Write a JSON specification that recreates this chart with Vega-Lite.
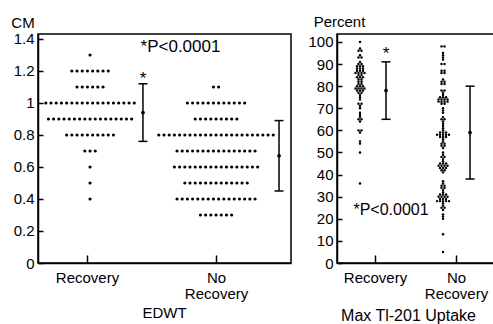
{
  "$schema": "https://vega.github.io/schema/vega-lite/v6.json",
  "padding": {"left": 10, "top": 13, "right": 0, "bottom": 0},
  "background": "white",
  "spacing": 15,
  "config": {
    "font": "Liberation Sans",
    "view": {"stroke": "black", "strokeWidth": 1.5},
    "axis": {"grid": false, "labelOverlap": false, "domainColor": "black", "domainWidth": 1.5, "tickColor": "black", "tickWidth": 1.5, "labelColor": "black", "titleColor": "black", "labelFontSize": 15, "titleFontSize": 15, "titleFontWeight": "normal", "labelFont": "Liberation Sans", "titleFont": "Liberation Sans"},
    "axisY": {"labelOverlap": false},
    "axisQuantitative": {"labelOverlap": false},
    "text": {"font": "Liberation Sans", "color": "black"}
  },
  "datasets": {
    "edwt": [
      {"group":"Recovery","value":1.3},
      {"group":"Recovery","value":1.2},{"group":"Recovery","value":1.2},{"group":"Recovery","value":1.2},{"group":"Recovery","value":1.2},{"group":"Recovery","value":1.2},{"group":"Recovery","value":1.2},{"group":"Recovery","value":1.2},{"group":"Recovery","value":1.2},
      {"group":"Recovery","value":1.1},{"group":"Recovery","value":1.1},{"group":"Recovery","value":1.1},{"group":"Recovery","value":1.1},{"group":"Recovery","value":1.1},{"group":"Recovery","value":1.1},
      {"group":"Recovery","value":1.0},{"group":"Recovery","value":1.0},{"group":"Recovery","value":1.0},{"group":"Recovery","value":1.0},{"group":"Recovery","value":1.0},{"group":"Recovery","value":1.0},{"group":"Recovery","value":1.0},{"group":"Recovery","value":1.0},{"group":"Recovery","value":1.0},{"group":"Recovery","value":1.0},{"group":"Recovery","value":1.0},{"group":"Recovery","value":1.0},{"group":"Recovery","value":1.0},{"group":"Recovery","value":1.0},{"group":"Recovery","value":1.0},{"group":"Recovery","value":1.0},{"group":"Recovery","value":1.0},{"group":"Recovery","value":1.0},
      {"group":"Recovery","value":0.9},{"group":"Recovery","value":0.9},{"group":"Recovery","value":0.9},{"group":"Recovery","value":0.9},{"group":"Recovery","value":0.9},{"group":"Recovery","value":0.9},{"group":"Recovery","value":0.9},{"group":"Recovery","value":0.9},{"group":"Recovery","value":0.9},{"group":"Recovery","value":0.9},{"group":"Recovery","value":0.9},{"group":"Recovery","value":0.9},{"group":"Recovery","value":0.9},{"group":"Recovery","value":0.9},{"group":"Recovery","value":0.9},{"group":"Recovery","value":0.9},{"group":"Recovery","value":0.9},
      {"group":"Recovery","value":0.8},{"group":"Recovery","value":0.8},{"group":"Recovery","value":0.8},{"group":"Recovery","value":0.8},{"group":"Recovery","value":0.8},{"group":"Recovery","value":0.8},{"group":"Recovery","value":0.8},{"group":"Recovery","value":0.8},{"group":"Recovery","value":0.8},{"group":"Recovery","value":0.8},
      {"group":"Recovery","value":0.7},{"group":"Recovery","value":0.7},{"group":"Recovery","value":0.7},
      {"group":"Recovery","value":0.6},{"group":"Recovery","value":0.5},{"group":"Recovery","value":0.4},
      {"group":"No Recovery","value":1.1},{"group":"No Recovery","value":1.1},
      {"group":"No Recovery","value":1.0},{"group":"No Recovery","value":1.0},{"group":"No Recovery","value":1.0},{"group":"No Recovery","value":1.0},{"group":"No Recovery","value":1.0},{"group":"No Recovery","value":1.0},{"group":"No Recovery","value":1.0},{"group":"No Recovery","value":1.0},{"group":"No Recovery","value":1.0},{"group":"No Recovery","value":1.0},{"group":"No Recovery","value":1.0},{"group":"No Recovery","value":1.0},
      {"group":"No Recovery","value":0.9},{"group":"No Recovery","value":0.9},{"group":"No Recovery","value":0.9},{"group":"No Recovery","value":0.9},{"group":"No Recovery","value":0.9},{"group":"No Recovery","value":0.9},{"group":"No Recovery","value":0.9},{"group":"No Recovery","value":0.9},{"group":"No Recovery","value":0.9},
      {"group":"No Recovery","value":0.8},{"group":"No Recovery","value":0.8},{"group":"No Recovery","value":0.8},{"group":"No Recovery","value":0.8},{"group":"No Recovery","value":0.8},{"group":"No Recovery","value":0.8},{"group":"No Recovery","value":0.8},{"group":"No Recovery","value":0.8},{"group":"No Recovery","value":0.8},{"group":"No Recovery","value":0.8},{"group":"No Recovery","value":0.8},{"group":"No Recovery","value":0.8},{"group":"No Recovery","value":0.8},{"group":"No Recovery","value":0.8},{"group":"No Recovery","value":0.8},{"group":"No Recovery","value":0.8},{"group":"No Recovery","value":0.8},{"group":"No Recovery","value":0.8},{"group":"No Recovery","value":0.8},{"group":"No Recovery","value":0.8},{"group":"No Recovery","value":0.8},{"group":"No Recovery","value":0.8},{"group":"No Recovery","value":0.8},
      {"group":"No Recovery","value":0.7},{"group":"No Recovery","value":0.7},{"group":"No Recovery","value":0.7},{"group":"No Recovery","value":0.7},{"group":"No Recovery","value":0.7},{"group":"No Recovery","value":0.7},{"group":"No Recovery","value":0.7},{"group":"No Recovery","value":0.7},{"group":"No Recovery","value":0.7},{"group":"No Recovery","value":0.7},{"group":"No Recovery","value":0.7},{"group":"No Recovery","value":0.7},{"group":"No Recovery","value":0.7},{"group":"No Recovery","value":0.7},{"group":"No Recovery","value":0.7},{"group":"No Recovery","value":0.7},
      {"group":"No Recovery","value":0.6},{"group":"No Recovery","value":0.6},{"group":"No Recovery","value":0.6},{"group":"No Recovery","value":0.6},{"group":"No Recovery","value":0.6},{"group":"No Recovery","value":0.6},{"group":"No Recovery","value":0.6},{"group":"No Recovery","value":0.6},{"group":"No Recovery","value":0.6},{"group":"No Recovery","value":0.6},{"group":"No Recovery","value":0.6},{"group":"No Recovery","value":0.6},{"group":"No Recovery","value":0.6},{"group":"No Recovery","value":0.6},{"group":"No Recovery","value":0.6},{"group":"No Recovery","value":0.6},{"group":"No Recovery","value":0.6},
      {"group":"No Recovery","value":0.5},{"group":"No Recovery","value":0.5},{"group":"No Recovery","value":0.5},{"group":"No Recovery","value":0.5},{"group":"No Recovery","value":0.5},{"group":"No Recovery","value":0.5},{"group":"No Recovery","value":0.5},{"group":"No Recovery","value":0.5},{"group":"No Recovery","value":0.5},{"group":"No Recovery","value":0.5},{"group":"No Recovery","value":0.5},{"group":"No Recovery","value":0.5},{"group":"No Recovery","value":0.5},
      {"group":"No Recovery","value":0.4},{"group":"No Recovery","value":0.4},{"group":"No Recovery","value":0.4},{"group":"No Recovery","value":0.4},{"group":"No Recovery","value":0.4},{"group":"No Recovery","value":0.4},{"group":"No Recovery","value":0.4},{"group":"No Recovery","value":0.4},{"group":"No Recovery","value":0.4},{"group":"No Recovery","value":0.4},{"group":"No Recovery","value":0.4},{"group":"No Recovery","value":0.4},{"group":"No Recovery","value":0.4},{"group":"No Recovery","value":0.4},{"group":"No Recovery","value":0.4},{"group":"No Recovery","value":0.4},
      {"group":"No Recovery","value":0.3},{"group":"No Recovery","value":0.3},{"group":"No Recovery","value":0.3},{"group":"No Recovery","value":0.3},{"group":"No Recovery","value":0.3},{"group":"No Recovery","value":0.3},{"group":"No Recovery","value":0.3}
    ],
    "edwt_sd": [
      {"group":"Recovery","mean":0.94,"lo":0.76,"hi":1.12},
      {"group":"No Recovery","mean":0.67,"lo":0.45,"hi":0.89}
    ],
    "tl": [
      {"group":"Recovery","value":100},
      {"group":"Recovery","value":97},{"group":"Recovery","value":96},{"group":"Recovery","value":96},
      {"group":"Recovery","value":94},{"group":"Recovery","value":93},{"group":"Recovery","value":93},
      {"group":"Recovery","value":91},{"group":"Recovery","value":90},{"group":"Recovery","value":90},{"group":"Recovery","value":89},{"group":"Recovery","value":89},{"group":"Recovery","value":89},
      {"group":"Recovery","value":88},{"group":"Recovery","value":88},{"group":"Recovery","value":88},{"group":"Recovery","value":87},{"group":"Recovery","value":87},{"group":"Recovery","value":87},{"group":"Recovery","value":86},{"group":"Recovery","value":86},{"group":"Recovery","value":86},{"group":"Recovery","value":86},
      {"group":"Recovery","value":85},{"group":"Recovery","value":85},{"group":"Recovery","value":84},{"group":"Recovery","value":84},{"group":"Recovery","value":84},{"group":"Recovery","value":83},{"group":"Recovery","value":83},{"group":"Recovery","value":82},{"group":"Recovery","value":82},{"group":"Recovery","value":81},{"group":"Recovery","value":81},
      {"group":"Recovery","value":80},{"group":"Recovery","value":80},{"group":"Recovery","value":80},{"group":"Recovery","value":79},{"group":"Recovery","value":79},{"group":"Recovery","value":79},{"group":"Recovery","value":79},{"group":"Recovery","value":78},{"group":"Recovery","value":78},{"group":"Recovery","value":78},{"group":"Recovery","value":77},{"group":"Recovery","value":77},
      {"group":"Recovery","value":76},{"group":"Recovery","value":75},{"group":"Recovery","value":74},
      {"group":"Recovery","value":72},{"group":"Recovery","value":72},{"group":"Recovery","value":71},{"group":"Recovery","value":70},{"group":"Recovery","value":68},
      {"group":"Recovery","value":67},{"group":"Recovery","value":66},{"group":"Recovery","value":65},{"group":"Recovery","value":65},{"group":"Recovery","value":64},
      {"group":"Recovery","value":60},{"group":"Recovery","value":60},{"group":"Recovery","value":59},
      {"group":"Recovery","value":55},{"group":"Recovery","value":54},{"group":"Recovery","value":50},{"group":"Recovery","value":36},
      {"group":"No Recovery","value":98},{"group":"No Recovery","value":98},
      {"group":"No Recovery","value":95},{"group":"No Recovery","value":94},{"group":"No Recovery","value":93},{"group":"No Recovery","value":92},
      {"group":"No Recovery","value":90},{"group":"No Recovery","value":90},
      {"group":"No Recovery","value":87},{"group":"No Recovery","value":87},{"group":"No Recovery","value":86},{"group":"No Recovery","value":86},
      {"group":"No Recovery","value":83},{"group":"No Recovery","value":82},{"group":"No Recovery","value":82},{"group":"No Recovery","value":81},{"group":"No Recovery","value":81},
      {"group":"No Recovery","value":78},{"group":"No Recovery","value":78},{"group":"No Recovery","value":77},
      {"group":"No Recovery","value":76},{"group":"No Recovery","value":75},{"group":"No Recovery","value":75},{"group":"No Recovery","value":75},{"group":"No Recovery","value":74},{"group":"No Recovery","value":74},{"group":"No Recovery","value":74},{"group":"No Recovery","value":74},{"group":"No Recovery","value":73},{"group":"No Recovery","value":73},{"group":"No Recovery","value":73},{"group":"No Recovery","value":73},{"group":"No Recovery","value":72},{"group":"No Recovery","value":72},
      {"group":"No Recovery","value":70},{"group":"No Recovery","value":69},{"group":"No Recovery","value":68},
      {"group":"No Recovery","value":66},{"group":"No Recovery","value":65},{"group":"No Recovery","value":65},{"group":"No Recovery","value":64},
      {"group":"No Recovery","value":63},{"group":"No Recovery","value":62},{"group":"No Recovery","value":61},
      {"group":"No Recovery","value":60},{"group":"No Recovery","value":59},{"group":"No Recovery","value":59},{"group":"No Recovery","value":59},{"group":"No Recovery","value":58},{"group":"No Recovery","value":58},{"group":"No Recovery","value":58},{"group":"No Recovery","value":58},{"group":"No Recovery","value":58},{"group":"No Recovery","value":57},{"group":"No Recovery","value":57},{"group":"No Recovery","value":57},{"group":"No Recovery","value":56},
      {"group":"No Recovery","value":55},{"group":"No Recovery","value":54},{"group":"No Recovery","value":54},{"group":"No Recovery","value":53},{"group":"No Recovery","value":53},{"group":"No Recovery","value":52},
      {"group":"No Recovery","value":50},{"group":"No Recovery","value":49},{"group":"No Recovery","value":48},{"group":"No Recovery","value":48},{"group":"No Recovery","value":47},
      {"group":"No Recovery","value":46},{"group":"No Recovery","value":45},{"group":"No Recovery","value":45},{"group":"No Recovery","value":45},{"group":"No Recovery","value":44},{"group":"No Recovery","value":44},{"group":"No Recovery","value":44},{"group":"No Recovery","value":44},{"group":"No Recovery","value":43},{"group":"No Recovery","value":43},{"group":"No Recovery","value":43},{"group":"No Recovery","value":42},{"group":"No Recovery","value":42},{"group":"No Recovery","value":41},
      {"group":"No Recovery","value":37},{"group":"No Recovery","value":36},{"group":"No Recovery","value":35},{"group":"No Recovery","value":35},{"group":"No Recovery","value":34},{"group":"No Recovery","value":34},{"group":"No Recovery","value":33},
      {"group":"No Recovery","value":32},{"group":"No Recovery","value":31},{"group":"No Recovery","value":31},{"group":"No Recovery","value":31},{"group":"No Recovery","value":30},{"group":"No Recovery","value":30},{"group":"No Recovery","value":30},{"group":"No Recovery","value":30},{"group":"No Recovery","value":29},{"group":"No Recovery","value":29},{"group":"No Recovery","value":29},{"group":"No Recovery","value":28},{"group":"No Recovery","value":28},{"group":"No Recovery","value":28},{"group":"No Recovery","value":28},{"group":"No Recovery","value":28},
      {"group":"No Recovery","value":27},{"group":"No Recovery","value":26},{"group":"No Recovery","value":25},{"group":"No Recovery","value":25},{"group":"No Recovery","value":24},
      {"group":"No Recovery","value":22},{"group":"No Recovery","value":21},{"group":"No Recovery","value":20},
      {"group":"No Recovery","value":13},{"group":"No Recovery","value":5}
    ],
    "tl_sd": [
      {"group":"Recovery","mean":78,"lo":65,"hi":91},
      {"group":"No Recovery","mean":59,"lo":38,"hi":80}
    ],
    "blank": [{}]
  },
  "hconcat": [
    {
      "width": 253,
      "height": 229,
      "encoding": {
        "y": {"type": "quantitative", "scale": {"domain": [0, 1.431], "nice": false, "zero": false},
          "axis": {"tickCount": 8, "labelOverlap": false, "labelBound": false, "format": "~g", "tickSize": -5, "labelPadding": 9, "title": "CM", "titleAngle": 0, "titleX": -15.5, "titleY": -11.5, "titleAlign": "center", "titleBaseline": "middle"}}
      },
      "layer": [
        {
          "data": {"name": "edwt"},
          "transform": [
            {"window": [{"op": "row_number", "as": "idx"}], "groupby": ["group", "value"]},
            {"joinaggregate": [{"op": "count", "as": "n"}], "groupby": ["group", "value"]},
            {"calculate": "(datum.group == 'Recovery' ? 1.0 : 2) + (datum.idx - (datum.n + 1) / 2) * 0.0413", "as": "xpos"}
          ],
          "mark": {"type": "circle", "size": 10, "color": "black", "opacity": 1},
          "encoding": {
            "x": {"field": "xpos", "type": "quantitative", "scale": {"domain": [0.587, 2.595], "nice": false, "zero": false},
              "axis": {"values": [0.976, 2], "labelOverlap": false, "labelExpr": "datum.value < 1.5 ? 'Recovery' : ['No', 'Recovery']", "tickSize": -8, "labelPadding": 15, "labelLineHeight": 16, "title": "EDWT", "titleX": 126, "titleY": 49.5, "titleAlign": "center", "titleBaseline": "middle"}},
            "y": {"field": "value"}
          }
        },
        {
          "data": {"name": "edwt_sd"},
          "transform": [{"calculate": "datum.group == 'Recovery' ? 1.42 : 2.5", "as": "xpos"}],
          "mark": {"type": "rule", "color": "black", "strokeWidth": 1.5},
          "encoding": {"x": {"field": "xpos", "type": "quantitative"}, "y": {"field": "lo"}, "y2": {"field": "hi"}}
        },
        {
          "data": {"name": "edwt_sd"},
          "transform": [{"calculate": "datum.group == 'Recovery' ? 1.42 : 2.5", "as": "xpos"}],
          "mark": {"type": "tick", "orient": "horizontal", "size": 9, "thickness": 1.5, "color": "black", "opacity": 1},
          "encoding": {"x": {"field": "xpos", "type": "quantitative"}, "y": {"field": "lo"}}
        },
        {
          "data": {"name": "edwt_sd"},
          "transform": [{"calculate": "datum.group == 'Recovery' ? 1.42 : 2.5", "as": "xpos"}],
          "mark": {"type": "tick", "orient": "horizontal", "size": 9, "thickness": 1.5, "color": "black", "opacity": 1},
          "encoding": {"x": {"field": "xpos", "type": "quantitative"}, "y": {"field": "hi"}}
        },
        {
          "data": {"name": "edwt_sd"},
          "transform": [{"calculate": "datum.group == 'Recovery' ? 1.42 : 2.5", "as": "xpos"}],
          "mark": {"type": "circle", "size": 14, "color": "black", "opacity": 1},
          "encoding": {"x": {"field": "xpos", "type": "quantitative"}, "y": {"field": "mean"}}
        },
        {
          "data": {"name": "blank"},
          "mark": {"type": "text", "text": "*", "fontSize": 17, "baseline": "middle", "align": "center"},
          "encoding": {"x": {"datum": 1.42}, "y": {"datum": 1.15}}
        },
        {
          "data": {"name": "blank"},
          "mark": {"type": "text", "text": "*P<0.0001", "fontSize": 17, "baseline": "middle", "align": "center"},
          "encoding": {"x": {"datum": 1.718}, "y": {"datum": 1.35}}
        }
      ]
    },
    {
      "width": 157,
      "height": 229,
      "encoding": {
        "y": {"type": "quantitative", "scale": {"domain": [0, 103.6], "nice": false, "zero": false},
          "axis": {"tickCount": 11, "labelOverlap": false, "labelBound": false, "tickSize": -5, "labelPadding": 9, "title": "Percent", "titleAngle": 0, "titleX": 2, "titleY": -12.5, "titleAlign": "center", "titleBaseline": "middle"}}
      },
      "layer": [
        {
          "data": {"name": "tl"},
          "transform": [
            {"window": [{"op": "row_number", "as": "idx"}], "groupby": ["group", "value"]},
            {"joinaggregate": [{"op": "count", "as": "n"}], "groupby": ["group", "value"]},
            {"calculate": "(datum.group == 'Recovery' ? 0.815 : 1.84) + (datum.idx - (datum.n + 1) / 2) * 0.037", "as": "xpos"}
          ],
          "mark": {"type": "circle", "size": 6, "color": "black", "opacity": 1},
          "encoding": {
            "x": {"field": "xpos", "type": "quantitative", "scale": {"domain": [0.531, 2.469], "nice": false, "zero": false},
              "axis": {"values": [1, 2], "labelOverlap": false, "labelExpr": "datum.value < 1.5 ? 'Recovery' : ['No', 'Recovery']", "tickSize": -8, "labelPadding": 15, "labelLineHeight": 16, "title": "Max Tl-201 Uptake", "titleFontSize": 16, "titleX": 71, "titleY": 52.5, "titleAlign": "center", "titleBaseline": "middle"}},
            "y": {"field": "value"}
          }
        },
        {
          "data": {"name": "tl_sd"},
          "transform": [{"calculate": "datum.group == 'Recovery' ? 1.136 : 2.173", "as": "xpos"}],
          "mark": {"type": "rule", "color": "black", "strokeWidth": 1.5},
          "encoding": {"x": {"field": "xpos", "type": "quantitative"}, "y": {"field": "lo"}, "y2": {"field": "hi"}}
        },
        {
          "data": {"name": "tl_sd"},
          "transform": [{"calculate": "datum.group == 'Recovery' ? 1.136 : 2.173", "as": "xpos"}],
          "mark": {"type": "tick", "orient": "horizontal", "size": 9, "thickness": 1.5, "color": "black", "opacity": 1},
          "encoding": {"x": {"field": "xpos", "type": "quantitative"}, "y": {"field": "lo"}}
        },
        {
          "data": {"name": "tl_sd"},
          "transform": [{"calculate": "datum.group == 'Recovery' ? 1.136 : 2.173", "as": "xpos"}],
          "mark": {"type": "tick", "orient": "horizontal", "size": 9, "thickness": 1.5, "color": "black", "opacity": 1},
          "encoding": {"x": {"field": "xpos", "type": "quantitative"}, "y": {"field": "hi"}}
        },
        {
          "data": {"name": "tl_sd"},
          "transform": [{"calculate": "datum.group == 'Recovery' ? 1.136 : 2.173", "as": "xpos"}],
          "mark": {"type": "circle", "size": 14, "color": "black", "opacity": 1},
          "encoding": {"x": {"field": "xpos", "type": "quantitative"}, "y": {"field": "mean"}}
        },
        {
          "data": {"name": "blank"},
          "mark": {"type": "text", "text": "*", "fontSize": 17, "baseline": "middle", "align": "center"},
          "encoding": {"x": {"datum": 1.136}, "y": {"datum": 94.5}}
        },
        {
          "data": {"name": "blank"},
          "mark": {"type": "text", "text": "*P<0.0001", "fontSize": 16, "baseline": "middle", "align": "center"},
          "encoding": {"x": {"datum": 1.198}, "y": {"datum": 24}}
        }
      ]
    }
  ]
}
